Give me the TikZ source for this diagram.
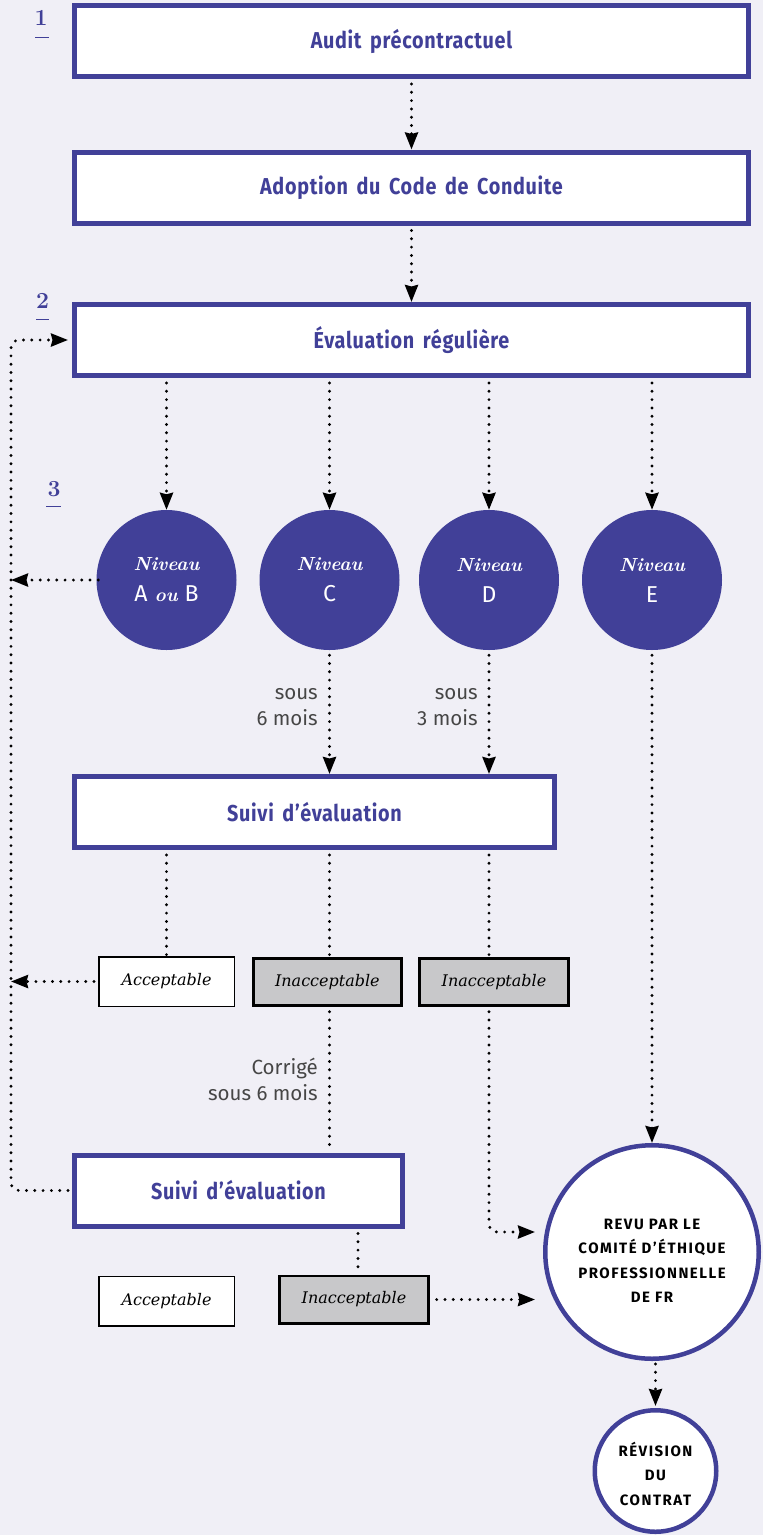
\documentclass[tikz,border=0pt]{standalone}
\usepackage{fontspec}
\usetikzlibrary{arrows.meta}
\newfontfamily\din[FakeStretch=0.86,WordSpace={1.6},LetterSpace=3]{Fira Sans}
\newfontfamily\fira{Fira Sans}
\newfontfamily\firacaps[LetterSpace=10]{Fira Sans}
\newfontfamily\dserif{DejaVu Serif}
\definecolor{myblue}{RGB}{65,64,152}
\definecolor{bgcol}{RGB}{240,239,246}
\definecolor{graybox}{RGB}{200,200,202}
\definecolor{labgray}{RGB}{70,70,70}
\newcommand{\lmbi}{\rmfamily\bfseries\itshape}
\newcommand{\niv}{{\lmbi\fontsize{19}{29}\selectfont Niveau}\\[2pt]}
\tikzset{
  bigbox/.style={draw=myblue, line width=5pt, fill=white, inner sep=0pt,
    text=myblue, font=\din\bfseries\fontsize{23}{26}\selectfont},
  level/.style={circle, fill=myblue, minimum size=140pt, inner sep=0pt,
    text=white, align=center, font=\fontsize{23}{29}\selectfont},
  accbox/.style={draw=black, line width=1.5pt, fill=white, inner sep=0pt,
    minimum width=135.5pt, minimum height=49.5pt,
    font=\dserif\itshape\fontsize{16}{18}\selectfont},
  inaccbox/.style={draw=black, line width=2.8pt, fill=graybox, inner sep=0pt,
    minimum width=148.5pt, minimum height=47.2pt,
    font=\dserif\itshape\fontsize{16}{18}\selectfont},
  endcirc/.style={circle, draw=myblue, line width=4.5pt, fill=white, inner sep=0pt,
    align=center, font=\firacaps\bfseries\fontsize{15}{24.5}\selectfont},
  lbl/.style={text=labgray, align=right, inner sep=0pt,
    font=\fira\fontsize{20.5}{26}\selectfont},
  num/.style={text=myblue, inner sep=0pt, font=\rmfamily\bfseries\fontsize{23}{23}\selectfont},
  uline/.style={myblue, line width=1pt},
  dotline/.style={black, line width=3.2pt, line cap=round, dash pattern=on 0pt off 8.3pt},
  tip/.style={-{Stealth[length=17pt,width=13pt,inset=1.5pt]}},
}
\begin{document}
\begin{tikzpicture}[x=1pt,y=-1pt]
\fill[bgcol] (0,0) rectangle (763,1535);
\useasboundingbox (0,0) rectangle (763,1535);

% numbers
\node[num] (n1) at (41,18) {1};
\draw[uline] (35,37.5) -- (49,37.5);
\node[num] (n2) at (42.5,300.5) {2};
\draw[uline] (36,319) -- (49,319);
\node[num] (n3) at (54,489) {3};
\draw[uline] (46,506.7) -- (61,506.7);

% main boxes
\node[bigbox, minimum width=674pt, minimum height=71pt] (audit) at (411.5,41) {Audit précontractuel};
\node[bigbox, minimum width=674pt, minimum height=71pt] (adopt) at (411.5,187.5) {Adoption du Code de Conduite};
\node[bigbox, minimum width=674pt, minimum height=71pt] (eval) at (411.5,340) {Évaluation régulière};

% levels
\node[level] (lAB) at (166.5,580) {\niv{\fira A} {\lmbi\fontsize{19}{29}\selectfont ou} {\fira B}};
\node[level] (lC) at (329.5,580) {\niv{\fira C}};
\node[level] (lD) at (489,580) {\niv{\fira D}};
\node[level] (lE) at (652,580) {\niv{\fira E}};

% follow-up boxes
\node[bigbox, minimum width=480pt, minimum height=71pt] (suivi1) at (314.5,812) {Suivi d’évaluation};
\node[bigbox, minimum width=328pt, minimum height=71pt] (suivi2) at (238.5,1190.5) {Suivi d’évaluation};

% result boxes
\node[accbox] (acc1) at (166.5,981.5) {Acceptable};
\node[inaccbox] (inacc1) at (327.4,981.7) {Inacceptable};
\node[inaccbox] (inacc2) at (494,981.7) {Inacceptable};
\node[accbox] (acc2) at (166.5,1301) {Acceptable};
\node[inaccbox] (inacc3) at (354,1299.5) {Inacceptable};

% end circles
\node[endcirc, minimum size=213.5pt] (revu) at (652,1252)
  {\raisebox{-9pt}[\height][\depth]{\begin{tabular}{@{}c@{}}REVU PAR LE\\COMITÉ D’ÉTHIQUE\\PROFESSIONNELLE\\DE FR\end{tabular}}};
\node[endcirc, minimum size=121.5pt] (revis) at (655.5,1471)
  {\raisebox{-5pt}[\height][\depth]{\begin{tabular}{@{}c@{}}RÉVISION\\DU\\CONTRAT\end{tabular}}};

% labels
\node[lbl, anchor=east] (lab6) at (318,707) {sous\\6 mois};
\node[lbl, anchor=east] (lab3) at (478,707) {sous\\3 mois};
\node[lbl, anchor=east] (labc) at (318,1079) {Corrigé\\sous 6 mois};

% helper coordinates
\coordinate (lpT) at (11,340);
\coordinate (lpB) at (11,1190.5);
\coordinate (inB) at (535,1232);
\coordinate (x358) at (358,1240);

% connectors
\draw[dotline, tip, shorten <=5pt] (audit.south) -- (adopt.north);
\draw[dotline, tip, shorten <=5pt] (adopt.south) -- (eval.north);
\foreach \c in {lAB,lC,lD,lE}{
  \draw[dotline, tip, shorten <=5pt] (eval.south -| \c) -- (\c.north);
}
\draw[dotline, tip, rounded corners=8pt, shorten <=4pt, shorten >=4pt] (suivi2.west) -- (lpB) -- (lpT) -- (eval.west);
\draw[dotline, tip, shorten <=-2pt] (lAB.west) -- (lAB.west -| lpT);
\draw[dotline, tip, shorten <=4pt] (acc1.west) -- (acc1.west -| lpT);
\draw[dotline, tip, shorten <=5pt] (lC.south) -- (suivi1.north -| lC);
\draw[dotline, tip, shorten <=5pt] (lD.south) -- (suivi1.north -| lD);
\draw[dotline, shorten <=5pt] (suivi1.south -| lAB) -- (acc1.north);
\draw[dotline, shorten <=5pt] (suivi1.south -| lC) -- (inacc1.north -| lC);
\draw[dotline, shorten <=5pt] (suivi1.south -| lD) -- (inacc2.north -| lD);
\draw[dotline, shorten <=5pt] (inacc1.south -| lC) -- (suivi2.north -| lC);
\draw[dotline, tip, rounded corners=8pt, shorten <=5pt] (inacc2.south -| lD) |- (inB);
\draw[dotline, tip, shorten <=5pt] (lE.south) -- (revu.north);
\draw[dotline, shorten <=5pt] (suivi2.south -| x358) -- (inacc3.north -| x358);
\draw[dotline, tip, shorten <=7pt] (inacc3.east) -- (inacc3.east -| inB);
\draw[dotline, tip, shorten <=3pt, shorten >=2pt] (revu.south -| revis.north) -- (revis.north);
\end{tikzpicture}
\end{document}
